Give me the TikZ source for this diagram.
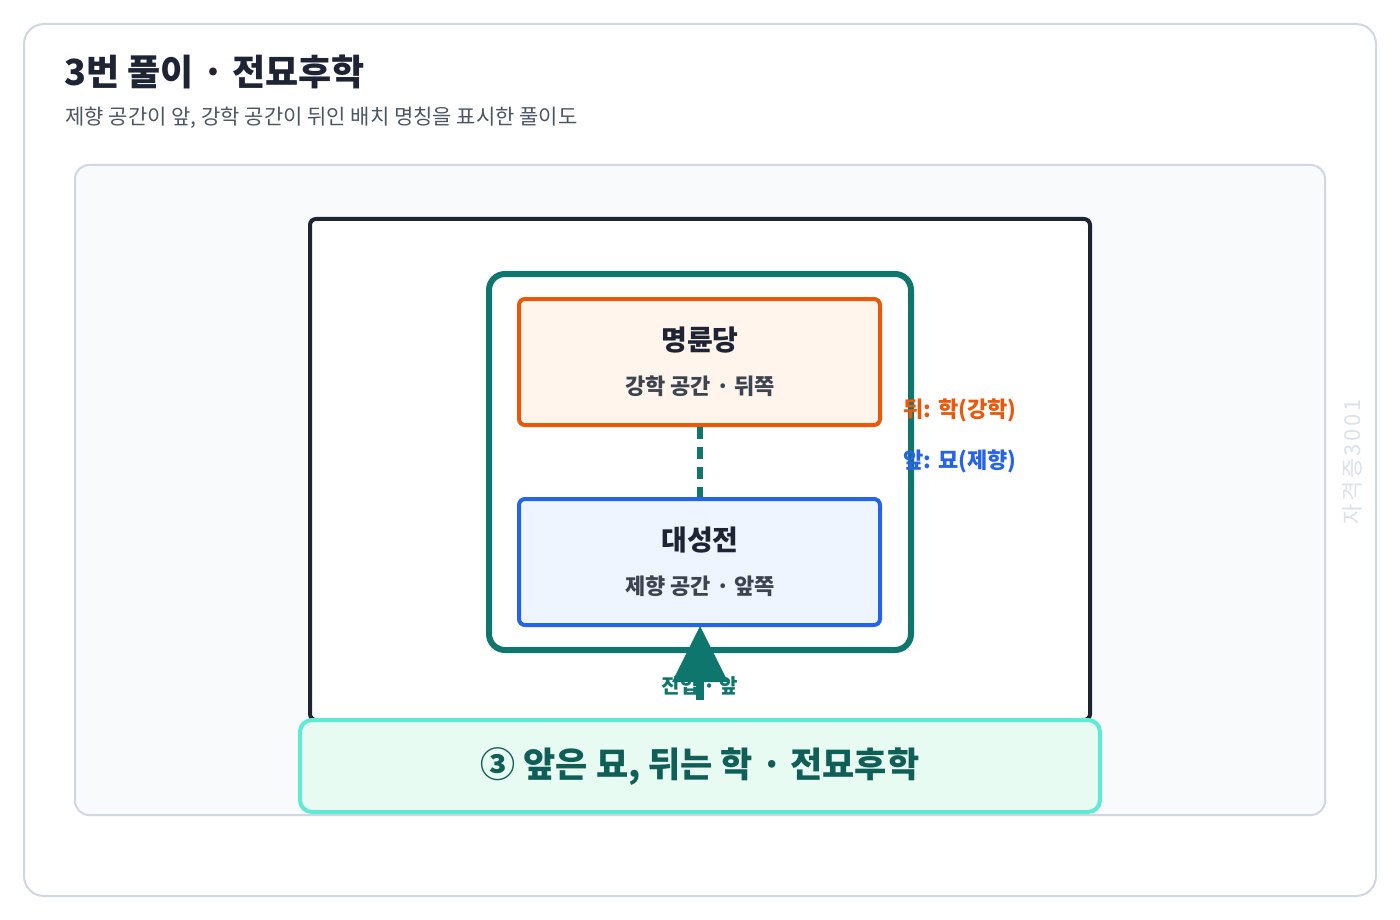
\documentclass[tikz,border=0pt]{standalone}
\usepackage{fontspec}
\setmainfont{Noto Sans CJK KR}
\definecolor{inkdark}{HTML}{1E2433}
\definecolor{inkgray}{HTML}{4B5563}
\definecolor{cardline}{HTML}{D0D7E2}
\definecolor{panelfill}{HTML}{F8FAFC}
\definecolor{tealmain}{HTML}{0F766E}
\definecolor{tealdark}{HTML}{0F5F57}
\definecolor{orangemain}{HTML}{EA580C}
\definecolor{orangefill}{HTML}{FFF5EC}
\definecolor{bluemain}{HTML}{2563EB}
\definecolor{bluefill}{HTML}{EEF5FF}
\definecolor{mintline}{HTML}{5EEAD4}
\definecolor{mintfill}{HTML}{E8FBF3}
\definecolor{wmark}{HTML}{DCE2EA}
\newcommand{\pxfont}[1]{\fontsize{#1}{#1}\selectfont}
\tikzset{
  hall/.style={rounded corners=6pt, line width=4pt},
  hallname/.style={font=\pxfont{28}\bfseries, text=inkdark},
  hallrole/.style={font=\pxfont{22}\bfseries, text=inkgray!80!black},
  sidelabel/.style={font=\pxfont{22}\bfseries, anchor=west}
}
\begin{document}
\begin{tikzpicture}[x=1pt,y=-1pt]
\useasboundingbox (0,0) rectangle (1400,920);
%Card and panel
\draw[cardline, line width=2pt, fill=white, rounded corners=20pt] (24,24) rectangle (1376,896);
\draw[cardline, line width=2pt, fill=panelfill, rounded corners=14pt] (75,165) rectangle (1325,815);
\node[anchor=west, font=\pxfont{36}\bfseries, text=inkdark] (title) at (61,72) {3번 풀이 · 전묘후학};
\node[anchor=west, font=\pxfont{21}, text=inkgray] (subtitle) at (62,118) {제향 공간이 앞, 강학 공간이 뒤인 배치 명칭을 표시한 풀이도};
%Precinct
\draw[inkdark, fill=white, hall] (310,219) rectangle (1090,720);
\draw[tealmain, line width=6pt, rounded corners=16pt] (489,274) rectangle (911,650);
%Halls
\node[draw=orangemain, fill=orangefill, hall, minimum width=361pt, minimum height=126pt] (back) at (699.5,362) {};
\node[hallname] (backname) at (700,340) {명륜당};
\node[hallrole] (backrole) at (700,386) {강학 공간 · 뒤쪽};
\node[draw=bluemain, fill=bluefill, hall, minimum width=361pt, minimum height=126pt] (front) at (699.5,562) {};
\node[hallname] (frontname) at (700,540) {대성전};
\node[hallrole] (frontrole) at (700,586) {제향 공간 · 앞쪽};
\draw[tealmain, line width=6pt, dash pattern=on 12pt off 8pt] (back.south) -- (front.north);
%Entrance
\coordinate (gate) at (700,700);
\draw[tealmain, line width=8pt] (gate) -- (700,670);
\fill[tealmain] (700,626) -- (728,682) -- (672,682) -- cycle;
\node[font=\pxfont{20}\bfseries, text=tealmain] (entry) at (700,686) {진입 · 앞};
%Side labels
\node[sidelabel, text=orangemain] (backlabel) at (900,410) {뒤: 학(강학)};
\node[sidelabel, text=bluemain] (frontlabel) at (900,461) {앞: 묘(제향)};
%Banner
\draw[mintline, fill=mintfill, line width=4pt, rounded corners=12pt] (300,720) rectangle (1100,812);
\node[font=\pxfont{35}\bfseries, text=tealdark] (banner) at (700,767) {③ 앞은 묘, 뒤는 학 · 전묘후학};
\node[rotate=90, font=\pxfont{22}\addfontfeature{LetterSpace=12}, text=wmark] (mark) at (1352,462) {자격증3001};
\end{tikzpicture}
\end{document}
